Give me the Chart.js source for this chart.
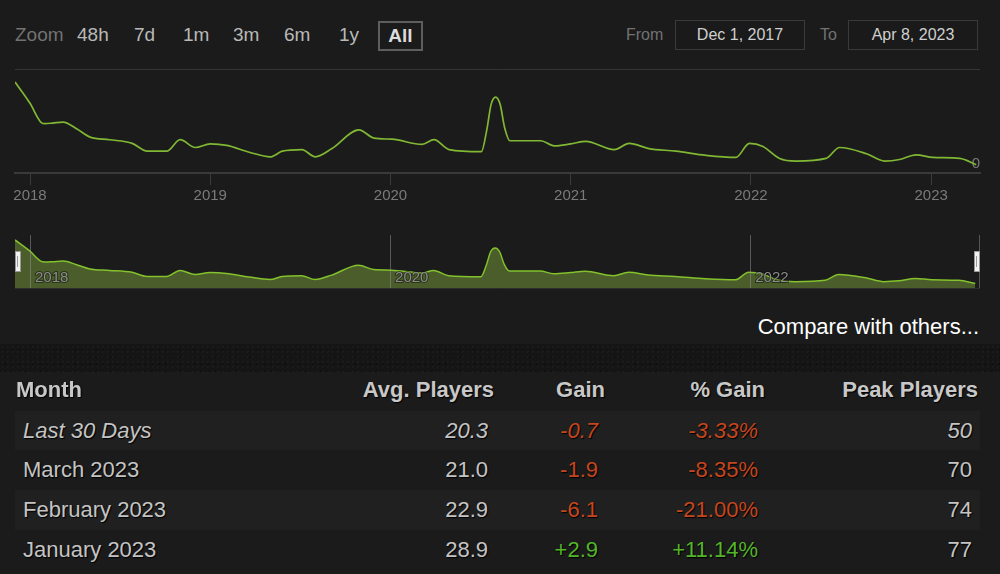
<!DOCTYPE html>
<html>
<head>
<meta charset="utf-8">
<script src="https://cdn.jsdelivr.net/npm/chart.js@4.4.1/dist/chart.umd.min.js"></script>
<style>
  html, body { margin: 0; padding: 0; background: #1b1b1b; }
  body { width: 1000px; height: 574px; overflow: hidden; position: relative;
         font-family: Arial, "Liberation Sans", sans-serif; }
  .abs { position: absolute; white-space: nowrap; }
  .zbtn { position: absolute; top: 25px; line-height: 20px; font-size: 19px; color: #b9b9b9; }
  .datebox { position: absolute; top: 20px; width: 128px; height: 28px; border: 1px solid #3a3a3a;
             color: #cfcfcf; font-size: 16px; line-height: 28px; text-align: center; background: #1a1a1a; }
  .band { position: absolute; left: 0; top: 344px; width: 1000px; height: 28px;
          background-color: #151515;
          background-image:
            radial-gradient(rgba(255,255,255,0.035) 1px, transparent 1px),
            radial-gradient(rgba(0,0,0,0.3) 1px, transparent 1px);
          background-size: 5px 5px, 7px 7px; background-position: 0 0, 2px 3px; }
  .rowbg { position: absolute; left: 15px; width: 965px; background: #202020; }
  .cell { position: absolute; font-size: 22px; line-height: 26px; color: #c4c4c4;
          text-shadow: 1px 1px 1px #000; white-space: nowrap; }
  .hdr { font-weight: bold; color: #c8c8c8; }
  .r { text-align: right; }
  .handle { position: absolute; width: 4px; height: 19px; background: #f2f2f2; border: 1px solid #9a9a9a; }
  .handle::after { content: ""; position: absolute; left: 1px; top: 4px; width: 1px; height: 11px; background: #9a9a9a; }
</style>
</head>
<body>
<!-- top controls -->
<div class="abs" style="left:15px; top:25px; line-height:20px; font-size:19px; color:#727272;">Zoom</div>
<div class="zbtn" style="left:77px;">48h</div>
<div class="zbtn" style="left:134px;">7d</div>
<div class="zbtn" style="left:183px;">1m</div>
<div class="zbtn" style="left:233px;">3m</div>
<div class="zbtn" style="left:284px;">6m</div>
<div class="zbtn" style="left:339px;">1y</div>
<div class="abs" style="left:378px; top:21px; width:41px; height:26px; border:2px solid #5e5e5e; color:#dcdcdc; font-weight:bold; font-size:19px; line-height:26px; text-align:center;">All</div>
<div class="abs" style="left:626px; top:26px; line-height:18px; font-size:16px; color:#727272;">From</div>
<div class="datebox" style="left:675px;">Dec 1, 2017</div>
<div class="abs" style="left:820px; top:26px; line-height:18px; font-size:16px; color:#727272;">To</div>
<div class="datebox" style="left:848px;">Apr 8, 2023</div>

<!-- main chart -->
<div class="abs" style="left:0; top:60px; width:1000px; height:150px;">
  <canvas id="mainChart" width="1000" height="150"></canvas>
</div>
<!-- navigator -->
<div class="abs" style="left:0; top:230px; width:1000px; height:65px;">
  <canvas id="navChart" width="1000" height="65"></canvas>
</div>
<div class="handle" style="left:15px; top:251px;"></div>
<div class="handle" style="left:974px; top:251px;"></div>

<div class="abs" style="right:21px; top:313px; font-size:22px; line-height:28px; color:#ffffff;">Compare with others...</div>

<div class="band"></div>

<div id="table"></div>

<script>
// ---------- DATA ----------
// x position of each point, in months counted from January 2018 (-1 = Dec 2017)
const pointMonths = [-1, 0, 0.75, 1.0, 1.5, 2.2, 3.1, 4.0, 5.3, 6.8, 7.8, 9.1, 10.0, 11.0, 12.0,
  13.1, 14.6, 16.0, 16.8, 18.1, 19.0, 20.1, 21.9, 22.9, 24.1, 26.1, 26.9, 27.9, 30.05, 30.4,
  30.7, 31.0, 31.3, 31.6, 31.95, 34.0, 34.9, 36.0, 37.0, 38.9, 39.9, 41.2, 43.0, 45.0, 47.0,
  47.9, 48.8, 49.9, 51.0, 53.0, 53.9, 55.7, 56.9, 57.9, 59.0, 60.1, 61.9, 63.0];
const avgPlayers = [175, 134, 97, 95, 96, 98, 85, 69, 64, 57, 42, 42, 64, 49, 56,
  53, 40, 31, 42, 45, 31, 47, 83, 67, 65, 55, 64, 45, 41, 81,
  132, 146, 132, 87, 62, 62, 52, 56, 61, 45, 57, 47, 42, 34, 30,
  57, 51, 28, 23, 28, 49, 37, 23, 26, 35, 30, 28, 16];
const rangeStart = -1;      // Dec 1, 2017
const rangeEnd = 63.25;     // Apr 8, 2023
const yearTicks = [0, 12, 24, 36, 48, 60];
const yearLabels = ['2018', '2019', '2020', '2021', '2022', '2023'];
const navTicks = [0, 24, 48];
const mainYTicks = [0, 200];

// table
const tableMonths = ['Last 30 Days', 'March 2023', 'February 2023', 'January 2023'];
const tableAvg = ['20.3', '21.0', '22.9', '28.9'];
const tableGain = ['-0.7', '-1.9', '-6.1', '+2.9'];
const tablePctGain = ['-3.33%', '-8.35%', '-21.00%', '+11.14%'];
const tablePeak = ['50', '70', '74', '77'];
const tableHeaders = ['Month', 'Avg. Players', 'Gain', '% Gain', 'Peak Players'];

// ---------- CHARTS ----------
Chart.defaults.font.family = 'Arial, "Liberation Sans", sans-serif';
const points = pointMonths.map((m, i) => ({ x: m, y: avgPlayers[i] }));
const labelFor = v => { const i = yearTicks.indexOf(v); return i >= 0 ? yearLabels[i] : ''; };

new Chart(document.getElementById('mainChart'), {
  type: 'line',
  data: { datasets: [{ data: points, borderColor: '#80b834', borderWidth: 1.7, pointRadius: 0,
    cubicInterpolationMode: 'monotone', fill: false }] },
  options: {
    responsive: false, animation: false, devicePixelRatio: 1,
    layout: { padding: { left: 15, right: 20, top: 7, bottom: 0 } },
    plugins: { legend: { display: false }, tooltip: { enabled: false } },
    scales: {
      x: {
        type: 'linear', min: rangeStart, max: rangeEnd,
        afterFit: s => { s.height = 37; },
        afterBuildTicks: s => { s.ticks = yearTicks.map(v => ({ value: v })); },
        ticks: { callback: v => labelFor(v), color: '#7a7a7a', font: { size: 15 }, padding: 2,
                 autoSkip: false, maxRotation: 0 },
        grid: { drawOnChartArea: false, drawTicks: true, tickLength: 12, color: '#3a3a3a', tickColor: '#3a3a3a' },
        border: { color: '#3a3a3a', width: 2 }
      },
      y: {
        position: 'right', min: 0, max: 200,
        afterFit: s => { s.width = 0; },
        afterBuildTicks: s => { s.ticks = mainYTicks.map(v => ({ value: v })); },
        ticks: { mirror: true, padding: 0, labelOffset: -9, color: '#7a7a7a', font: { size: 15 },
                 callback: v => (v === 0 ? '0' : '') },
        grid: { color: '#353535', drawTicks: false },
        border: { display: false }
      }
    }
  }
});

new Chart(document.getElementById('navChart'), {
  type: 'line',
  data: { datasets: [{ data: points, borderColor: '#83c22c', backgroundColor: '#4a5d2a', borderWidth: 1.5,
    pointRadius: 0, cubicInterpolationMode: 'monotone', fill: 'origin' }] },
  options: {
    responsive: false, animation: false, devicePixelRatio: 1,
    layout: { padding: { left: 15, right: 21, top: 5, bottom: 7 } },
    plugins: { legend: { display: false }, tooltip: { enabled: false } },
    scales: {
      x: {
        type: 'linear', min: rangeStart, max: rangeEnd,
        afterFit: s => { s.height = 0; },
        afterBuildTicks: s => { s.ticks = navTicks.map(v => ({ value: v })); },
        ticks: { z: 2, mirror: true, callback: v => labelFor(v), color: '#8c8c8c', font: { size: 15 }, padding: 1,
                 align: 'start', labelOffset: 5, autoSkip: false, maxRotation: 0,
                 textStrokeColor: 'rgba(0,0,0,0.45)', textStrokeWidth: 2 },
        grid: { z: 1, drawOnChartArea: true, drawTicks: false, color: 'rgba(150,150,150,0.5)' },
        border: { z: 1, display: true, color: '#2e2e2e' }
      },
      y: {
        position: 'right', min: 0, max: 193,
        afterFit: s => { s.width = 0; },
        ticks: { display: false },
        grid: { display: false },
        border: { display: true, color: '#555555' }
      }
    }
  }
});

// ---------- TABLE ----------
const tbl = document.getElementById('table');
function cell(text, css, cls) {
  const d = document.createElement('div');
  d.className = 'cell ' + (cls || '');
  d.textContent = text;
  d.setAttribute('style', css);
  tbl.appendChild(d);
}
function bg(top, h) {
  const d = document.createElement('div');
  d.className = 'rowbg';
  d.style.top = top + 'px'; d.style.height = h + 'px';
  tbl.appendChild(d);
}
const rowTops = [411, 450, 490, 530];
const rowH = [39, 40, 40, 40];
bg(rowTops[0], rowH[0]);
bg(rowTops[2], rowH[2]);
// headers
const hdrCenter = 390;
cell(tableHeaders[0], `left:16px; top:${hdrCenter - 13}px;`, 'hdr');
const hdrRight = [494, 605, 765, 978];
for (let i = 1; i < 5; i++) {
  cell(tableHeaders[i], `right:${1000 - hdrRight[i - 1]}px; top:${hdrCenter - 13}px;`, 'hdr r');
}
const valRight = [488, 598, 758, 972];
const red = '#c4461f', green = '#52b52a';
tableMonths.forEach((m, i) => {
  const c = rowTops[i] + rowH[i] / 2;
  const it = i === 0 ? 'font-style:italic;' : '';
  const col = tableGain[i].startsWith('+') ? green : red;
  cell(m, `left:23px; top:${c - 13}px; ${it}`);
  cell(tableAvg[i], `right:${1000 - valRight[0]}px; top:${c - 13}px; ${it}`, 'r');
  cell(tableGain[i], `right:${1000 - valRight[1]}px; top:${c - 13}px; color:${col}; ${it}`, 'r');
  cell(tablePctGain[i], `right:${1000 - valRight[2]}px; top:${c - 13}px; color:${col}; ${it}`, 'r');
  cell(tablePeak[i], `right:${1000 - valRight[3]}px; top:${c - 13}px; ${it}`, 'r');
});
</script>
</body>
</html>
